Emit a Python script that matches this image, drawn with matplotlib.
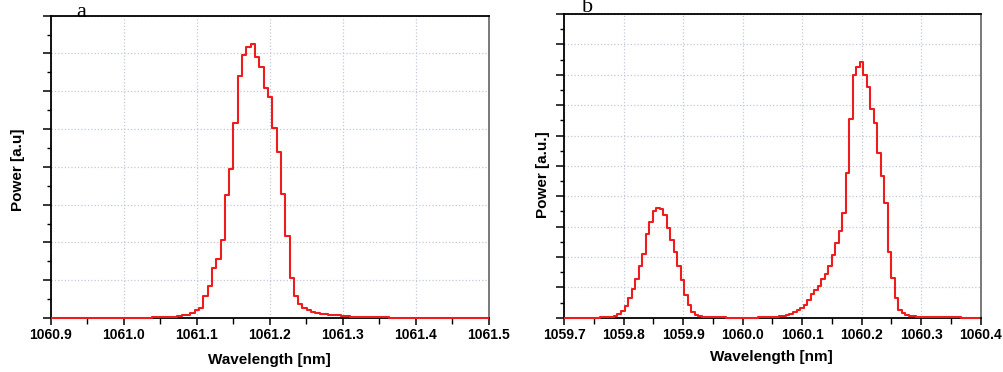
import numpy as np
import matplotlib
matplotlib.use("Agg")
import matplotlib.pyplot as plt
from matplotlib.ticker import MultipleLocator, NullFormatter

# ==============================
# DATA
# ==============================

BIN_WIDTH = 0.0059  # nm, spectrometer sampling step

# panel a : single line near 1061.18 nm
a_start = 1060.9026
a_power = [
    0.0, 0.0, 0.0, 0.0, 0.0, 0.005, 0.005, 0.005, 0.005, 0.005, 0.005, 0.005, 0.005, 0.005,
    0.01, 0.01, 0.01, 0.01, 0.01, 0.01, 0.01, 0.01,
    0.01, 0.015, 0.015, 0.02, 0.02,
    0.03, 0.04, 0.05, 0.07, 0.09, 0.13, 0.20, 0.26,
    0.59, 0.84, 1.33, 1.57, 2.07, 3.26, 3.94, 5.15, 6.39, 6.96, 7.17, 7.25, 6.91, 6.65,
    6.09, 5.84, 5.04, 4.40, 3.28, 2.17, 1.07, 0.59, 0.36, 0.26, 0.20, 0.16, 0.13, 0.11,
    0.10, 0.09, 0.08, 0.07, 0.06, 0.05, 0.04, 0.035, 0.03, 0.03, 0.025, 0.02, 0.02, 0.02, 0.015,
    0.01, 0.01, 0.01, 0.01, 0.01, 0.01, 0.01, 0.01,
    0.005, 0.005, 0.005, 0.005, 0.005, 0.005, 0.005, 0.005, 0.005, 0.005, 0.005, 0.005,
    0.005, 0.005, 0.005,
]

# panel b : two lines near 1059.85 nm and 1060.20 nm
b_start = 1059.7010
b_power = [
    0.0, 0.0, 0.0, 0.0, 0.0, 0.0,
    0.005, 0.005, 0.005, 0.005,
    0.01, 0.01, 0.02,
    0.03, 0.05, 0.11, 0.22, 0.38, 0.66, 0.96, 1.26, 1.70, 2.10, 2.75, 3.16, 3.51, 3.60,
    3.57, 3.38, 2.96, 2.57, 2.16, 1.70, 1.24, 0.75, 0.42, 0.20, 0.09, 0.05, 0.03, 0.02,
    0.02, 0.015, 0.01,
    0.01, 0.01, 0.005, 0.005, 0.005, 0.005, 0.005, 0.005, 0.005, 0.005, 0.005, 0.01, 0.01,
    0.01, 0.015, 0.02, 0.03, 0.05, 0.07, 0.10, 0.13, 0.18, 0.24,
    0.31, 0.42, 0.58, 0.78, 0.91, 1.04, 1.26, 1.43, 1.70, 2.06, 2.45, 2.85, 3.44, 4.77,
    6.54, 7.99, 8.27, 8.43, 7.99, 7.61, 6.89, 6.42, 5.43, 4.67, 3.77, 2.17, 1.30, 0.64,
    0.25, 0.14, 0.09,
    0.06, 0.04, 0.03, 0.03, 0.02, 0.02, 0.02, 0.015, 0.015, 0.01, 0.01, 0.01, 0.01, 0.01,
    0.01, 0.005, 0.005, 0.005, 0.005, 0.005,
]

a_xticks = [1060.9, 1061.0, 1061.1, 1061.2, 1061.3, 1061.4, 1061.5]
b_xticks = [1059.7, 1059.8, 1059.9, 1060.0, 1060.1, 1060.2, 1060.3, 1060.4]

# ==============================
# STYLE
# ==============================

plt.rcParams["font.family"] = ["Liberation Sans", "DejaVu Sans"]
plt.rcParams["path.simplify"] = False
LINE_RED = "#ee1c1c"
GRID_COLOR = "#c4c8dc"


def draw_panel(ax, start, power, xticks, ymax, ylabel, letter, letter_x, letter_y):
    power = np.array(power)
    edges = start + BIN_WIDTH * np.arange(len(power) + 1)
    # steps-post needs one more y value to close the last bin
    ax.plot(edges, np.append(power, power[-1]), drawstyle="steps-post",
            color=LINE_RED, linewidth=1.5, zorder=3, clip_on=False)

    ax.set_xlim(xticks[0], xticks[-1])
    ax.set_ylim(0, ymax)
    ax.set_xticks(xticks)
    ax.set_xticklabels([f"{t:.1f}" for t in xticks], fontweight="bold", fontsize=10)
    ax.xaxis.set_minor_locator(MultipleLocator(0.05))
    ax.yaxis.set_major_locator(MultipleLocator(1))
    ax.yaxis.set_minor_locator(MultipleLocator(0.5))
    ax.yaxis.set_major_formatter(NullFormatter())

    ax.tick_params(axis="x", which="major", direction="out", length=5, width=1.1, pad=2.5)
    ax.tick_params(axis="x", which="minor", direction="out", length=4, width=1.0)
    ax.tick_params(axis="y", which="major", direction="out", length=6, width=1.1)
    ax.tick_params(axis="y", which="minor", direction="out", length=3, width=1.0)

    ax.grid(True, which="major", color=GRID_COLOR, linestyle=":", linewidth=0.9)
    ax.set_axisbelow(True)

    for side in ["left", "bottom", "top"]:
        ax.spines[side].set_linewidth(1.3)
        ax.spines[side].set_color("black")
    ax.spines["right"].set_linewidth(1.1)
    ax.spines["right"].set_color("#555555")

    ax.set_xlabel("Wavelength [nm]", fontweight="bold", fontsize=11)
    ax.set_ylabel(ylabel, fontweight="bold", fontsize=11)

    fig.text(letter_x, letter_y, letter, fontsize=16, family="Liberation Serif",
             ha="left", va="baseline")


# ==============================
# FIGURE
# ==============================

fig = plt.figure(figsize=(10.04, 3.72), dpi=100)

ax_a = fig.add_axes([0.0503, 0.145, 0.4367, 0.813])
ax_b = fig.add_axes([0.5620, 0.146, 0.4148, 0.816])

draw_panel(ax_a, a_start, a_power, a_xticks, 8, "Power [a.u]", "a", 0.0755, 1 - 17 / 372)
draw_panel(ax_b, b_start, b_power, b_xticks, 10, "Power [a.u.]", "b", 0.580, 1 - 12 / 372)

ax_a.xaxis.set_label_coords(0.5, -0.115)
ax_a.yaxis.set_label_coords(-0.058, 0.49)
ax_b.xaxis.set_label_coords(0.498, -0.108)
ax_b.yaxis.set_label_coords(-0.035, 0.47)

fig.savefig("out.png", dpi=100)
